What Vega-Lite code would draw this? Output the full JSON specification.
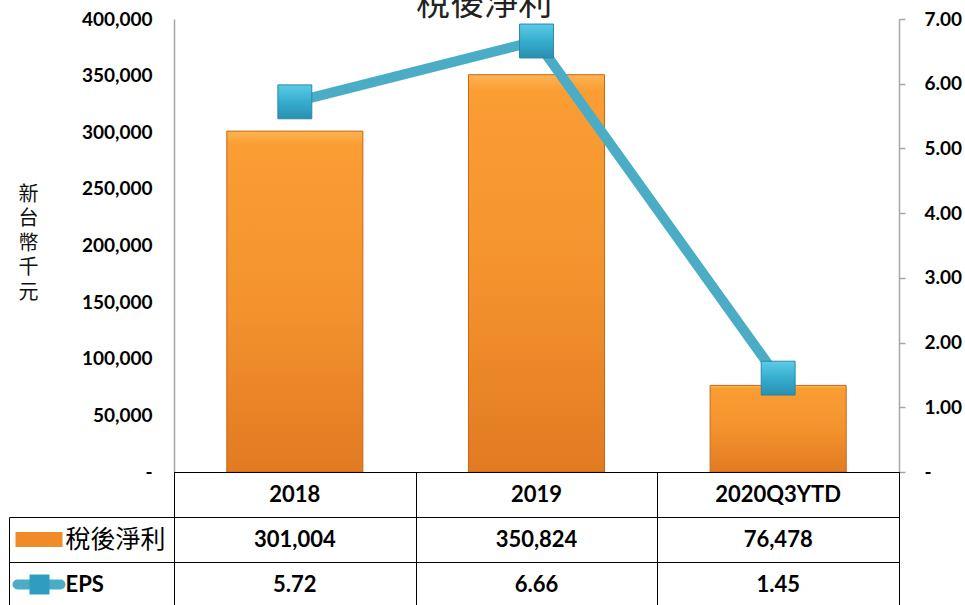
{
  "$schema": "https://vega.github.io/schema/vega-lite/v6.json",
  "padding": {"left": 7, "top": -12, "right": 0, "bottom": 0},
  "background": "white",
  "config": {"view": {"stroke": null}, "font": "Lato"},
  "title": {"text": "稅後淨利", "font": "Noto Sans CJK TC", "fontSize": 34, "fontWeight": "normal", "color": "#222222", "anchor": "middle", "offset": -12},
  "datasets": {
    "main": [
      {"period": "2018", "profit": 301004, "eps": 5.72},
      {"period": "2019", "profit": 350824, "eps": 6.66},
      {"period": "2020Q3YTD", "profit": 76478, "eps": 1.45}
    ]
  },
  "bounds": "flush",
  "spacing": 0,
  "vconcat": [
    {
      "width": 725,
      "height": 453,
      "data": {"name": "main"},
      "encoding": {
        "x": {"field": "period", "type": "nominal", "sort": null,
          "scale": {"paddingInner": 0, "paddingOuter": 0},
          "axis": {"title": null, "labels": false, "ticks": false, "domain": true, "domainColor": "#000000", "domainWidth": 1.2, "grid": false}}
      },
      "layer": [
        {
          "mark": {"type": "bar", "width": {"band": 0.563},
            "fill": {"gradient": "linear", "x1": 0, "y1": 0, "x2": 0, "y2": 1,
              "stops": [{"offset": 0, "color": "#FFB454"}, {"offset": 0.04, "color": "#FA9D33"}, {"offset": 0.5, "color": "#F4932E"}, {"offset": 1, "color": "#E27A22"}]},
            "stroke": "#C46718", "strokeWidth": 1},
          "encoding": {
            "y": {"field": "profit", "type": "quantitative",
              "scale": {"domain": [0, 400000], "nice": false},
              "axis": {"orient": "left", "title": ["新", "台", "幣", "千", "元"], "titleAngle": 0,
                "titleFont": "Noto Sans CJK TC", "titleFontSize": 20, "titleFontWeight": "normal", "titleLineHeight": 24.5,
                "titleColor": "#111111", "titleAlign": "center", "titleBaseline": "middle",
                "titleX": -146, "titleY": 175,
                "values": [0, 50000, 100000, 150000, 200000, 250000, 300000, 350000, 400000],
                "labelExpr": "datum.value == 0 ? '- ' : format(datum.value, ',')",
                "labelFont": "Lato", "labelFontSize": 19, "labelFontWeight": "bold", "labelColor": "#000000",
                "labelOverlap": false, "ticks": false, "labelPadding": 22,
                "domainColor": "#A6A6A6", "domainWidth": 1.5, "grid": false}}
          }
        },
        {
          "encoding": {
            "y": {"field": "eps", "type": "quantitative",
              "scale": {"domain": [0, 7], "nice": false},
              "axis": {"orient": "right", "title": null,
                "values": [0, 1, 2, 3, 4, 5, 6, 7],
                "labelExpr": "datum.value == 0 ? '-' : format(datum.value, '.2f')",
                "labelFont": "Lato", "labelFontSize": 19, "labelFontWeight": "bold", "labelColor": "#000000",
                "labelOverlap": false, "ticks": true, "tickSize": 6, "tickColor": "#A6A6A6", "tickWidth": 1.5,
                "labelPadding": 19, "domainColor": "#A6A6A6", "domainWidth": 1.5, "grid": false}}
          },
          "layer": [
            {"mark": {"type": "line", "color": "#4BACC6", "strokeWidth": 10}},
            {"mark": {"type": "point", "shape": "square", "size": 1150, "filled": true, "opacity": 1,
              "fill": {"gradient": "linear", "x1": 0, "y1": 0, "x2": 0, "y2": 1,
                "stops": [{"offset": 0, "color": "#5CCBE6"}, {"offset": 0.5, "color": "#36ADCE"}, {"offset": 1, "color": "#2A8FB0"}]},
              "stroke": "#2A88A8", "strokeWidth": 1}}
          ]
        }
      ],
      "resolve": {"scale": {"y": "independent"}}
    },
    {
      "width": 725,
      "height": 135,
      "data": {"name": "main"},
      "view": {"stroke": "#000000", "strokeWidth": 1},
      "layer": [
        {
          "mark": {"type": "text", "font": "Lato", "fontSize": 22, "fontWeight": "bold", "color": "#000000"},
          "encoding": {
            "x": {"field": "period", "type": "nominal", "sort": null,
              "scale": {"paddingInner": 0, "paddingOuter": 0},
              "axis": {"orient": "top", "title": null, "labels": false, "ticks": false, "domain": false,
                "grid": true, "gridColor": "#000000", "gridWidth": 1, "gridOpacity": 1, "tickBand": "extent"}},
            "y": {"datum": "cat", "type": "nominal",
              "scale": {"domain": ["cat", "稅後淨利", "EPS"], "paddingInner": 0, "paddingOuter": 0},
              "axis": {"orient": "left", "title": null, "labels": false, "domain": false, "tickBand": "extent",
                "grid": true, "gridColor": "#000000", "gridWidth": 1, "gridOpacity": 1,
                "ticks": true, "tickSize": 165, "tickWidth": 1,
                "tickColor": {"condition": {"test": "datum.extra", "value": "transparent"}, "value": "#000000"}}},
            "text": {"field": "period"}
          }
        },
        {
          "mark": {"type": "text", "font": "Lato", "fontSize": 22, "fontWeight": "bold", "color": "#000000"},
          "encoding": {
            "x": {"field": "period", "type": "nominal", "sort": null,
              "axis": {"orient": "top", "title": null, "labels": false, "domain": false, "grid": false,
                "values": ["2018"], "bandPosition": 0, "offset": -135, "tickOffset": -165,
                "ticks": true, "tickSize": 90, "tickColor": "#000000", "tickWidth": 1}},
            "y": {"datum": "稅後淨利", "type": "nominal",
              "axis": {"orient": "left", "title": null, "domain": false, "grid": false,
                "offset": 112, "ticks": true, "tickSize": 47, "tickWidth": 15, "tickCap": "butt",
                "tickColor": {"condition": {"test": "datum.value === '稅後淨利'", "value": "#F08C28"}, "value": "transparent"},
                "labelExpr": "datum.value === 'cat' ? '' : datum.value",
                "labelAlign": "left", "labelPadding": -50, "labelColor": "#000000",
                "labelFont": {"condition": {"test": "datum.value === '稅後淨利'", "value": "Noto Sans CJK TC"}, "value": "Lato"},
                "labelFontSize": {"condition": {"test": "datum.value === '稅後淨利'", "value": 25}, "value": 22},
                "labelFontWeight": {"condition": {"test": "datum.value === '稅後淨利'", "value": "normal"}, "value": "bold"}}},
            "text": {"field": "profit", "type": "quantitative", "format": ","}
          }
        },
        {
          "mark": {"type": "text", "font": "Lato", "fontSize": 22, "fontWeight": "bold", "color": "#000000"},
          "encoding": {
            "x": {"field": "period", "type": "nominal", "sort": null, "axis": null},
            "y": {"datum": "EPS", "type": "nominal",
              "axis": {"orient": "left", "title": null, "domain": false, "grid": false, "labels": false,
                "offset": 114, "ticks": true, "tickSize": 43, "tickWidth": 10, "tickCap": "round",
                "tickColor": {"condition": {"test": "datum.value === 'EPS'", "value": "#4BACC6"}, "value": "transparent"}}},
            "text": {"field": "eps", "type": "quantitative", "format": ".2f"}
          }
        },
        {
          "mark": {"type": "text", "opacity": 0},
          "encoding": {
            "x": {"field": "period", "type": "nominal", "sort": null, "axis": null},
            "y": {"datum": "EPS", "type": "nominal",
              "axis": {"orient": "left", "title": null, "domain": false, "grid": false, "labels": false,
                "offset": 125, "ticks": true, "tickSize": 20, "tickWidth": 20, "tickCap": "butt",
                "tickColor": {"condition": {"test": "datum.value === 'EPS'", "value": "#2E9DC0"}, "value": "transparent"}}},
            "text": {"field": "period"}
          }
        }
      ],
      "resolve": {"axis": {"x": "independent", "y": "independent"}}
    }
  ]
}
